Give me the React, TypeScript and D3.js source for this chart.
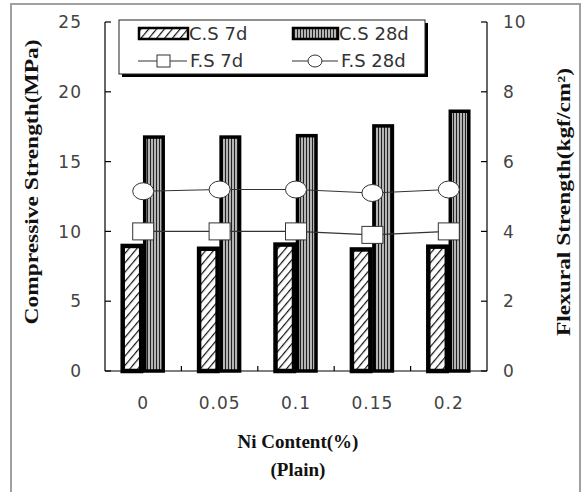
import * as d3 from "d3";

const categories = ["0", "0.05", "0.1", "0.15", "0.2"];
const cs7 = [9.1, 8.9, 9.2, 8.85, 9.05];
const cs28 = [16.9, 16.9, 17.0, 17.7, 18.75];
const fs7 = [4.0, 4.0, 4.0, 3.9, 4.0];
const fs28 = [5.15, 5.2, 5.2, 5.1, 5.2];
const leftTicks = [0, 5, 10, 15, 20, 25];
const rightTicks = [0, 2, 4, 6, 8, 10];

const W = 583;
const H = 492;
const left = 105;
const right = 487;
const top = 22;
const bottom = 371;

export default function App() {
  const x = d3.scaleBand<string>().domain(categories).range([left, right]);
  const yL = d3.scaleLinear().domain([0, 25]).range([bottom, top]);
  const yR = d3.scaleLinear().domain([0, 10]).range([bottom, top]);
  const barW = 22;
  const cx = (c: string) => (x(c) as number) + x.bandwidth() / 2;

  const line = d3
    .line<number>()
    .x((_, i) => cx(categories[i]))
    .y((v) => yR(v));

  const tickFont = "DejaVu Sans, sans-serif";
  const titleFont = "Liberation Serif, serif";

  return (
    <svg width={W} height={H} style={{ position: "absolute", left: 0, top: 0 }}>
      <defs>
        <pattern id="hatch" width="6" height="6" patternUnits="userSpaceOnUse" patternTransform="rotate(40)">
          <rect width="6" height="6" fill="#fff" />
          <line x1="0" y1="0" x2="0" y2="6" stroke="#111" strokeWidth="2.4" />
        </pattern>
        <pattern id="stripes" width="3" height="6" patternUnits="userSpaceOnUse">
          <rect width="3" height="6" fill="#b5b5b5" />
          <line x1="0.5" y1="0" x2="0.5" y2="6" stroke="#222" strokeWidth="1" />
        </pattern>
      </defs>
      <rect x={0} y={0} width={W} height={H} fill="#fff" />
      <rect x={11} y={4} width={569} height={H + 10} fill="none" stroke="#a0a0a0" strokeWidth={2} />

      {/* bars */}
      {categories.map((c, i) => (
        <g key={c}>
          <rect
            x={cx(c) - barW + 1.5}
            y={yL(cs7[i]) + 2}
            width={barW - 3.5}
            height={bottom - yL(cs7[i]) - 2}
            fill="url(#hatch)"
            stroke="#000"
            strokeWidth={4.5}
          />
          <rect
            x={cx(c) + 1.5}
            y={yL(cs28[i]) + 2}
            width={barW - 3.5}
            height={bottom - yL(cs28[i]) - 2}
            fill="url(#stripes)"
            stroke="#000"
            strokeWidth={3.5}
          />
        </g>
      ))}

      {/* axes */}
      <line x1={left} y1={top} x2={left} y2={bottom} stroke="#000" strokeWidth={1.2} />
      <line x1={right} y1={top} x2={right} y2={bottom} stroke="#000" strokeWidth={1.2} />
      <line x1={left} y1={bottom} x2={right} y2={bottom} stroke="#000" strokeWidth={1.2} />
      {leftTicks.map((t) => (
        <g key={"l" + t}>
          <line x1={left} x2={left + 6} y1={yL(t)} y2={yL(t)} stroke="#000" strokeWidth={1.2} />
          <text x={82} y={yL(t)} dy="0.36em" textAnchor="end" fontFamily={tickFont} fontSize={17} fill="#444" letterSpacing={1}>
            {t}
          </text>
        </g>
      ))}
      {rightTicks.map((t) => (
        <g key={"r" + t}>
          <line x1={right - 6} x2={right} y1={yR(t)} y2={yR(t)} stroke="#000" strokeWidth={1.2} />
          <text x={503} y={yR(t)} dy="0.36em" textAnchor="start" fontFamily={tickFont} fontSize={17} fill="#444" letterSpacing={1}>
            {t}
          </text>
        </g>
      ))}
      {categories.slice(1).map((c) => (
        <line key={"xt" + c} x1={x(c)} x2={x(c)} y1={bottom} y2={bottom - 5} stroke="#000" strokeWidth={1.2} />
      ))}
      {categories.map((c) => (
        <text key={"xl" + c} x={cx(c)} y={409} textAnchor="middle" fontFamily={tickFont} fontSize={17} fill="#444" letterSpacing={1}>
          {c}
        </text>
      ))}

      {/* lines + markers */}
      <path d={line(fs28) as string} fill="none" stroke="#333" strokeWidth={1.2} />
      <path d={line(fs7) as string} fill="none" stroke="#333" strokeWidth={1.2} />
      {fs28.map((v, i) => (
        <ellipse key={"c" + i} cx={cx(categories[i])} cy={yR(v)} rx={10.5} ry={8.5} fill="#fff" stroke="#333" strokeWidth={1} />
      ))}
      {fs7.map((v, i) => (
        <rect key={"s" + i} x={cx(categories[i]) - 10.5} y={yR(v) - 8.5} width={21} height={17} fill="#fff" stroke="#333" strokeWidth={1} />
      ))}

      {/* legend */}
      <rect x={122} y={23} width={306} height={54} fill="#000" />
      <rect x={119} y={20} width={306} height={54} fill="#fff" stroke="#222" strokeWidth={1} />
      <rect x={139} y={28} width={49} height={11} fill="url(#hatch)" stroke="#000" strokeWidth={2.5} />
      <text x={189} y={34} dy="0.36em" fontFamily={tickFont} fontSize={18} fill="#333">C.S 7d</text>
      <rect x={293} y={28} width={45} height={11} fill="url(#stripes)" stroke="#000" strokeWidth={2.5} />
      <text x={339} y={34} dy="0.36em" fontFamily={tickFont} fontSize={18} fill="#333">C.S 28d</text>
      <line x1={138} x2={187} y1={61} y2={61} stroke="#333" strokeWidth={1.2} />
      <rect x={157} y={55} width={13} height={12} fill="#fff" stroke="#333" strokeWidth={1} />
      <text x={190} y={61} dy="0.36em" fontFamily={tickFont} fontSize={18} fill="#333">F.S 7d</text>
      <line x1={292} x2={338} y1={61} y2={61} stroke="#333" strokeWidth={1.2} />
      <ellipse cx={315} cy={61} rx={7} ry={6} fill="#fff" stroke="#333" strokeWidth={1} />
      <text x={341} y={61} dy="0.36em" fontFamily={tickFont} fontSize={18} fill="#333">F.S 28d</text>

      {/* titles */}
      <text
        transform={`translate(38,182) rotate(-90)`}
        textAnchor="middle"
        fontFamily={titleFont}
        fontWeight="bold"
        fontSize={18}
        textLength={285}
        lengthAdjust="spacingAndGlyphs"
        fill="#111"
      >
        Compressive Strength(MPa)
      </text>
      <text
        transform={`translate(570,202) rotate(-90)`}
        textAnchor="middle"
        fontFamily={titleFont}
        fontWeight="bold"
        fontSize={18}
        textLength={268}
        lengthAdjust="spacingAndGlyphs"
        fill="#111"
      >
        Flexural Strength(kgf/cm²)
      </text>
      <text x={298} y={448} textAnchor="middle" fontFamily={titleFont} fontWeight="bold" fontSize={19} fill="#111">
        Ni Content(%)
      </text>
      <text x={298} y={476} textAnchor="middle" fontFamily={titleFont} fontWeight="bold" fontSize={19} fill="#111">
        (Plain)
      </text>
    </svg>
  );
}
